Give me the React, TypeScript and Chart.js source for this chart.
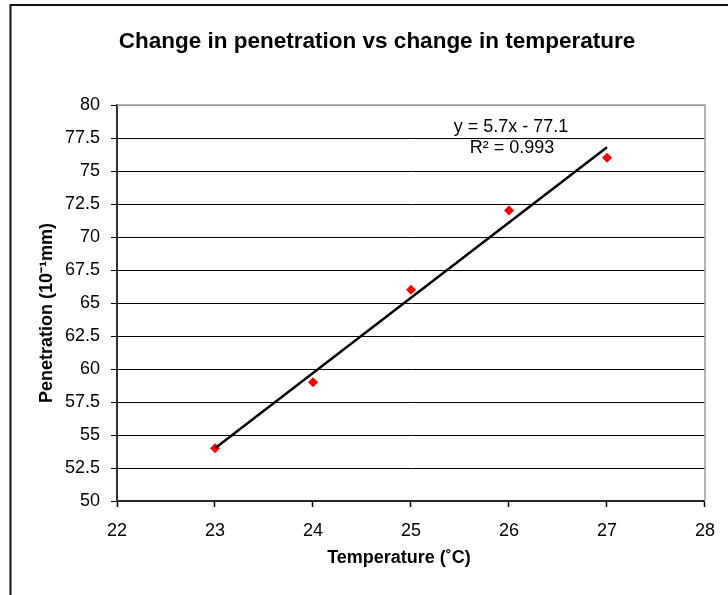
import React, { useEffect, useRef } from "react";
import { Chart, registerables } from "chart.js";

Chart.register(...registerables);

const TITLE = "Change in penetration vs change in temperature";
const X_TITLE = "Temperature (˚C)";
const Y_TITLE = "Penetration (10⁻¹mm)";

const temperatures = [23, 24, 25, 26, 27];
const penetrations = [54, 59, 66, 72, 76];

const X_TICKS = [22, 23, 24, 25, 26, 27, 28];
const Y_TICKS = [50, 52.5, 55, 57.5, 60, 62.5, 65, 67.5, 70, 72.5, 75, 77.5, 80];

const TREND_SLOPE = 5.7;
const TREND_INTERCEPT = -77.1;
const TREND_EQUATION = "y = 5.7x - 77.1";
const TREND_R2 = "R² = 0.993";

const FONT = "'Liberation Sans', Arial, sans-serif";

export default function App() {
  const ref = useRef<HTMLCanvasElement | null>(null);

  useEffect(() => {
    if (!ref.current) return;
    const xMin = Math.min(...temperatures);
    const xMax = Math.max(...temperatures);
    const trend = [
      { x: xMin, y: TREND_SLOPE * xMin + TREND_INTERCEPT },
      { x: xMax, y: TREND_SLOPE * xMax + TREND_INTERCEPT },
    ];
    const points = temperatures.map((t, i) => ({ x: t, y: penetrations[i] }));

    const framePlugin = {
      id: "frame",
      afterLayout(chart: any) {
        const tb = chart.titleBlock;
        if (tb) {
          tb.left += 24;
          tb.right += 24;
        }
      },
      beforeDraw(chart: any) {
        const ctx = chart.ctx;
        ctx.save();
        ctx.fillStyle = "#ffffff";
        ctx.fillRect(0, 0, chart.width, chart.height);
        ctx.strokeStyle = "#111";
        ctx.lineWidth = 2;
        ctx.beginPath();
        ctx.moveTo(10.5, chart.height);
        ctx.lineTo(10.5, 5);
        ctx.lineTo(chart.width, 5);
        ctx.stroke();
        ctx.restore();
      },
      afterDatasetsDraw(chart: any) {
        const ctx = chart.ctx;
        const a = chart.chartArea;
        ctx.save();
        ctx.strokeStyle = "#9a9a9a";
        ctx.lineWidth = 1.5;
        ctx.beginPath();
        ctx.moveTo(a.left, a.top);
        ctx.lineTo(a.right, a.top);
        ctx.lineTo(a.right, a.bottom);
        ctx.stroke();
        ctx.fillStyle = "#000";
        ctx.font = `18px ${FONT}`;
        ctx.textAlign = "center";
        ctx.textBaseline = "middle";
        ctx.fillText(TREND_EQUATION, a.left + 394, a.top + 22);
        ctx.fillText(TREND_R2, a.left + 395, a.top + 43);
        // axis titles
        ctx.font = `bold 18px ${FONT}`;
        ctx.fillText(X_TITLE, a.left + 282, a.bottom + 57);
        ctx.translate(47, a.top + 208);
        ctx.rotate(-Math.PI / 2);
        ctx.fillText(Y_TITLE, 0, 0);
        ctx.restore();
      },
    };

    const chart = new Chart(ref.current, {
      type: "scatter",
      data: {
        datasets: [
          {
            label: "Linear",
            data: trend,
            showLine: true,
            borderColor: "#000",
            borderWidth: 2.5,
            pointRadius: 0,
            fill: false,
          } as any,
          {
            label: "Penetration",
            data: points,
            pointStyle: "rectRot",
            pointRadius: 5,
            backgroundColor: "#ff0000",
            borderColor: "#ff0000",
            borderWidth: 0,
          },
        ],
      },
      options: {
        responsive: false,
        animation: false,
        layout: { padding: { left: 0, right: 22, top: 0, bottom: 0 } },
        plugins: {
          legend: { display: false },
          tooltip: { enabled: false },
          title: {
            display: true,
            text: TITLE,
            color: "#000",
            font: { family: FONT, size: 22.5, weight: "bold" },
            padding: { top: 28, bottom: 50 },
          },
        },
        scales: {
          x: {
            type: "linear",
            min: 22,
            max: 28,
            afterBuildTicks: (s: any) => {
              s.ticks = X_TICKS.map((v) => ({ value: v }));
            },
            afterFit: (s: any) => {
              s.height = 94;
            },
            ticks: {
              color: "#000",
              font: { family: FONT, size: 18 },
              padding: 13,
              callback: (v: any) => String(v),
            },
            grid: {
              drawOnChartArea: false,
              drawTicks: true,
              tickLength: 6,
              tickColor: "#000",
              tickWidth: 1.5,
            },
            border: { display: true, color: "#222", width: 2 },
            title: { display: false },
          },
          y: {
            type: "linear",
            min: 50,
            max: 80,
            afterBuildTicks: (s: any) => {
              s.ticks = Y_TICKS.map((v) => ({ value: v }));
            },
            afterFit: (s: any) => {
              s.width = 117;
            },
            ticks: {
              color: "#000",
              font: { family: FONT, size: 18 },
              padding: 11,
              callback: (v: any) => String(v),
            },
            grid: {
              color: (c: any) => (c.tick && c.tick.value === 80 ? "#9a9a9a" : "#000"),
              lineWidth: 1,
              drawTicks: true,
              tickLength: 6,
              tickColor: "#000",
            },
            border: { display: true, color: "#333", width: 2 },
            title: { display: false },
          },
        },
      },
      plugins: [framePlugin],
    });
    return () => chart.destroy();
  }, []);

  return (
    <div style={{ position: "fixed", left: 0, top: 0, width: 728, height: 595, background: "#fff" }}>
      <canvas ref={ref} width={728} height={595} style={{ display: "block" }} />
    </div>
  );
}
